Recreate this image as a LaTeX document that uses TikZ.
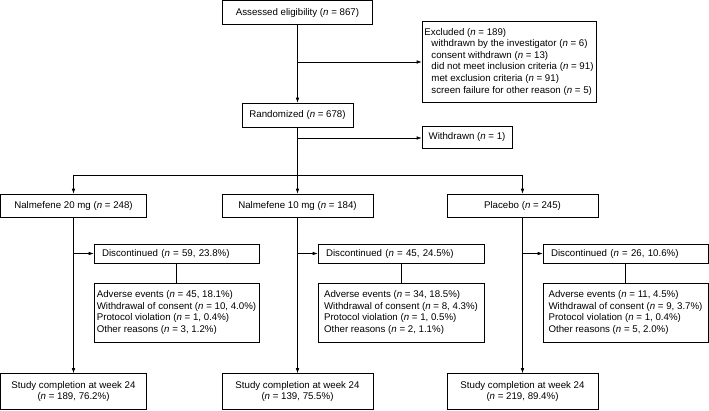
\documentclass[tikz,border=0pt]{standalone}
\usepackage{fontspec}
\setmainfont{Liberation Sans}
\usetikzlibrary{arrows.meta}
\usetikzlibrary{calc}

\begin{document}
\begin{tikzpicture}[x=1pt,y=-1pt,
    box/.style={draw, line width=0.6pt, inner sep=2pt, font=\fontsize{9.7}{11.6}\selectfont},
    lbox/.style={box, align=left, inner xsep=8pt, text width=#1},
    rbox/.style={box, align=left, minimum width=165, minimum height=59},
    arr/.style={line width=0.6pt, -{Latex[length=5pt,width=3.5pt]}},
    ln/.style={line width=0.6pt}]

		\useasboundingbox (0,0) rectangle (709,410);

		% screening
		\node [box, minimum width=150, minimum height=24] (elig) at (297.5,12.5) {Assessed eligibility (\textit{n} = 867)};
		\node [box, align=left, minimum width=174, minimum height=81] (excl) at (509,61.5)
			{Excluded (\textit{n} = 189)\\
			 \hspace*{7pt}withdrawn by the investigator (\textit{n} = 6)\\
			 \hspace*{7pt}consent withdrawn (\textit{n} = 13)\\
			 \hspace*{7pt}did not meet inclusion criteria (\textit{n} = 91)\\
			 \hspace*{7pt}met exclusion criteria (\textit{n} = 91)\\
			 \hspace*{7pt}screen failure for other reason (\textit{n} = 5)};
		\node [box, minimum width=111, minimum height=24] (rand) at (297.5,115) {Randomized (\textit{n} = 678)};
		\node [box, minimum width=90, minimum height=22] (wdr) at (467,137) {Withdrawn (\textit{n} = 1)};

		\coordinate (B1) at (297.5,62);
		\coordinate (B2) at (297.5,138);
		\coordinate (S) at (297.5,175);

		% groups
		\node [box, minimum width=146, minimum height=23] (grp20) at (73.5,205.5) {Nalmefene 20 mg (\textit{n} = 248)};
		\node [box, minimum width=151, minimum height=23] (grp10) at (297.5,205.5) {Nalmefene 10 mg (\textit{n} = 184)};
		\node [box, minimum width=151, minimum height=23] (grpP) at (522.5,205.5) {Placebo (\textit{n} = 245)};

		\node [lbox=149pt, minimum height=19] (disc20) at (176.5,253.5) {Discontinued (\textit{n} = 59, 23.8\%)};
		\node [lbox=150pt, minimum height=19] (disc10) at (401,253.5) {Discontinued (\textit{n} = 45, 24.5\%)};
		\node [lbox=149pt, minimum height=19] (discP) at (625.5,253.5) {Discontinued (\textit{n} = 26, 10.6\%)};

		\node [rbox] (reas20) at (176.5,312.5)
			{Adverse events (\textit{n} = 45, 18.1\%)\\
			 Withdrawal of consent (\textit{n} = 10, 4.0\%)\\
			 Protocol violation (\textit{n} = 1, 0.4\%)\\
			 Other reasons (\textit{n} = 3, 1.2\%)};
		\node [rbox, minimum width=166] (reas10) at (401,312.5)
			{Adverse events (\textit{n} = 34, 18.5\%)\\
			 Withdrawal of consent (\textit{n} = 8, 4.3\%)\\
			 Protocol violation (\textit{n} = 1, 0.5\%)\\
			 Other reasons (\textit{n} = 2, 1.1\%)};
		\node [rbox] (reasP) at (625.5,312.5)
			{Adverse events (\textit{n} = 11, 4.5\%)\\
			 Withdrawal of consent (\textit{n} = 9, 3.7\%)\\
			 Protocol violation (\textit{n} = 1, 0.4\%)\\
			 Other reasons (\textit{n} = 5, 2.0\%)};

		\node [box, align=center, minimum width=146, minimum height=36] (comp20) at (73.5,391.5) {Study completion at week 24\\(\textit{n} = 189, 76.2\%)};
		\node [box, align=center, minimum width=151, minimum height=36] (comp10) at (297.5,391.5) {Study completion at week 24\\(\textit{n} = 139, 75.5\%)};
		\node [box, align=center, minimum width=151, minimum height=36] (compP) at (522.5,391.5) {Study completion at week 24\\(\textit{n} = 219, 89.4\%)};

		% flow
		\draw [arr] (elig) -- (rand);
		\draw [arr] (B1) -- (B1 -| excl.west);
		\draw [arr] (rand) -- (grp10);
		\draw [arr] (B2) -- (B2 -| wdr.west);
		\draw [ln] (S -| grp20.north) -- (S -| grpP.north);
		\draw [arr] (S -| grp20.north) -- (grp20.north);
		\draw [arr] (S -| grpP.north) -- (grpP.north);

		\foreach \g in {20,10,P}
		{
			\draw [arr] (grp\g) -- (comp\g);
			\draw [arr] (disc\g.west -| grp\g.south) -- (disc\g.west);
			\draw [ln] (disc\g) -- (reas\g);
		}
\end{tikzpicture}
\end{document}
